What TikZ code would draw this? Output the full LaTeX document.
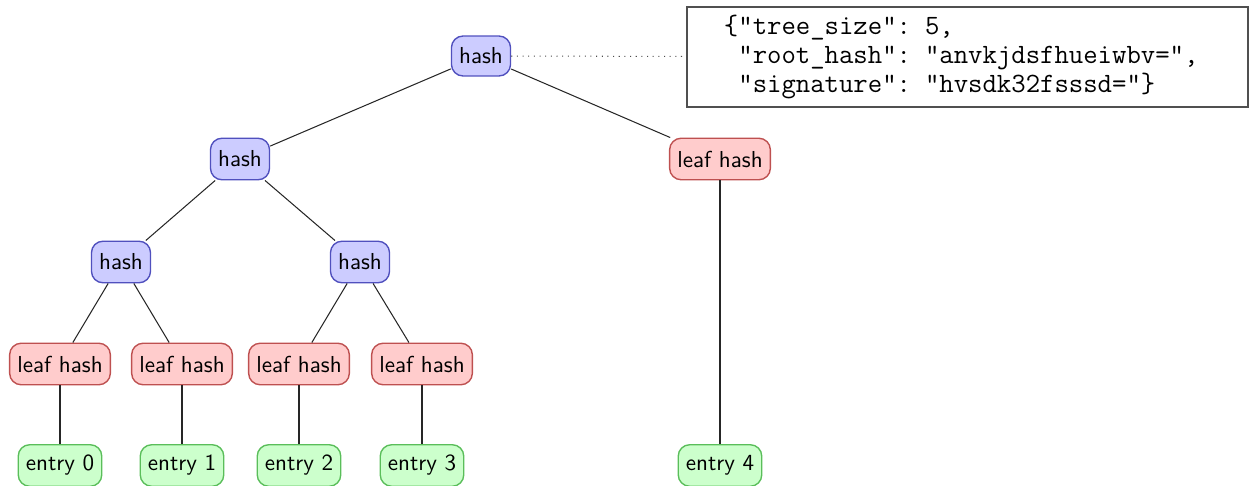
\documentclass[tikz,border=0pt]{standalone}
\usepackage{fontspec}
\definecolor{hashfill}{RGB}{204,204,255}
\definecolor{hashdraw}{RGB}{80,80,190}
\definecolor{leaffill}{RGB}{255,204,204}
\definecolor{leafdraw}{RGB}{190,80,80}
\definecolor{entryfill}{RGB}{204,255,204}
\definecolor{entrydraw}{RGB}{90,190,90}
\definecolor{boxdraw}{RGB}{80,80,80}
\tikzset{
  base/.style={rounded corners=5pt, minimum height=18pt, inner xsep=3.3pt, font=\sffamily, line width=0.6pt},
  hashnode/.style={base, fill=hashfill, draw=hashdraw},
  leafnode/.style={base, fill=leaffill, draw=leafdraw},
  entrynode/.style={base, fill=entryfill, draw=entrydraw},
  edge/.style={draw=black!85, line width=0.45pt},
  jsonbox/.style={draw=boxdraw, line width=0.6pt, minimum height=43.3pt, text width=210.9pt, inner xsep=16pt, align=left,
    font=\fontsize{12.1}{12.56}\selectfont\ttfamily}
}
\begin{document}
\begin{tikzpicture}[x=0.433pt,y=-0.433pt]
\useasboundingbox (0,0) rectangle (1250,486);
% hash nodes
\node[hashnode, minimum height=17.3pt] (root) at (481,56) {hash};
\node[hashnode] (h1) at (240,159) {hash};
\node[hashnode] (h2a) at (121,262) {hash};
\node[hashnode] (h2b) at (360,262) {hash};
% leaf hashes
\node[leafnode] (lr) at (720,159) {leaf hash};
\node[leafnode] (l0) at (60,364) {leaf hash};
\node[leafnode] (l1) at (182,364) {leaf hash};
\node[leafnode] (l2) at (299,364) {leaf hash};
\node[leafnode] (l3) at (422,364) {leaf hash};
% entries
\node[entrynode] (e0) at (60,465.5) {entry 0};
\node[entrynode] (e1) at (182,465.5) {entry 1};
\node[entrynode] (e2) at (299,465.5) {entry 2};
\node[entrynode] (e3) at (422,465.5) {entry 3};
\node[entrynode] (e4) at (720,465.5) {entry 4};
% json box
\node[jsonbox] (json) at (967.5,57) {\{"tree\_size": 5,\\\phantom{\{}"root\_hash": "anvkjdsfhueiwbv=",\\\phantom{\{}"signature": "hvsdk32fsssd="\}};
% edges
\draw[edge] (root) -- (h1);
\draw[edge] (root) -- (lr);
\draw[edge] (h1) -- (h2a);
\draw[edge] (h1) -- (h2b);
\draw[edge] (h2a) -- (l0);
\draw[edge] (h2a) -- (l1);
\draw[edge] (h2b) -- (l2);
\draw[edge] (h2b) -- (l3);
\draw[edge] (l0) -- (e0);
\draw[edge] (l1) -- (e1);
\draw[edge] (l2) -- (e2);
\draw[edge] (l3) -- (e3);
\draw[edge] (lr) -- (e4);
\draw[edge, dotted, draw=black!70] (root) -- (json);
\end{tikzpicture}
\end{document}
